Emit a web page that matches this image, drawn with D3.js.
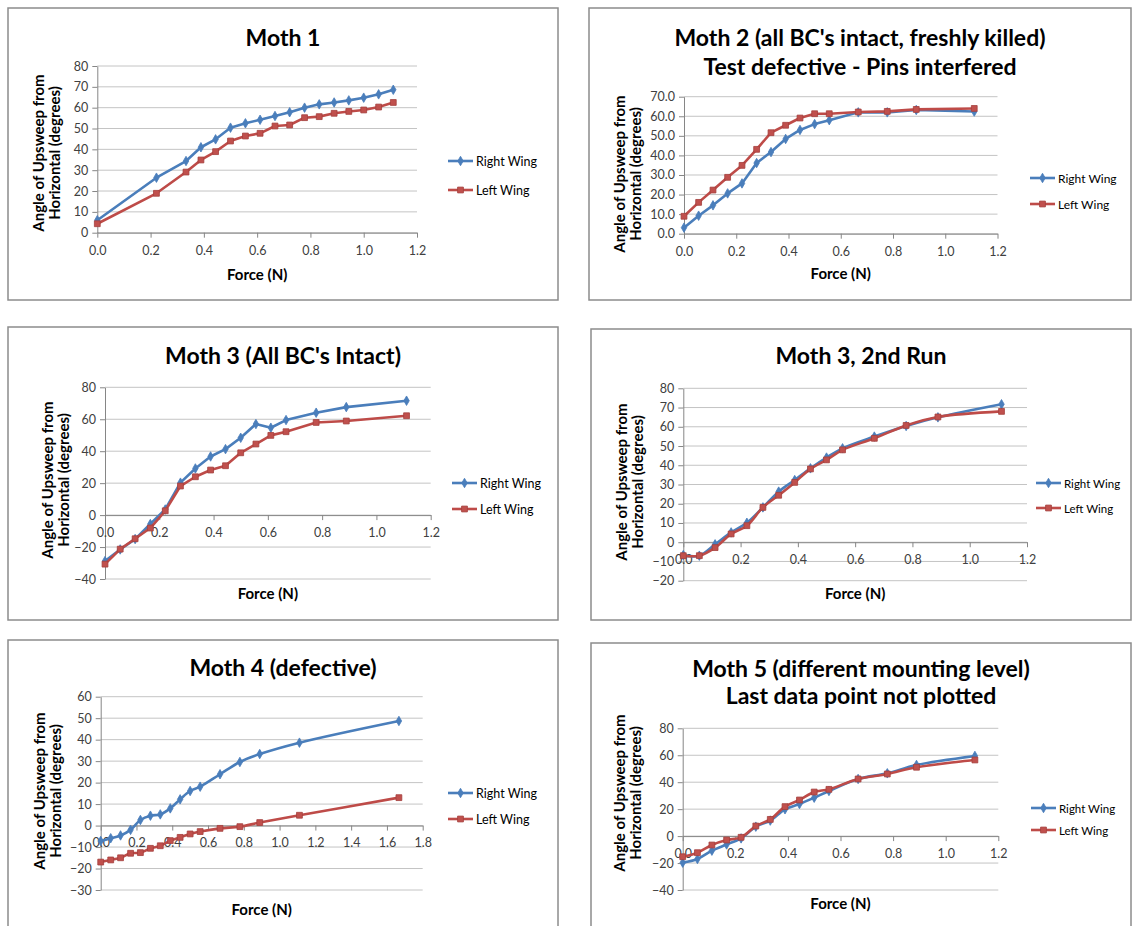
<!DOCTYPE html>
<html><head><meta charset="utf-8">
<script src="https://cdn.jsdelivr.net/npm/d3@7"></script>
<style>
body{margin:0;background:#fff;}
svg text{font-family:Lato,"Open Sans",sans-serif;}
</style>
</head><body>
<svg id="chart" width="1133" height="926"></svg>
<script>
// ---------------- DATA ----------------
const seriesNames = ["Right Wing", "Left Wing"];

const forceMoth1 = [0, 0.222, 0.333, 0.389, 0.444, 0.5, 0.556, 0.611, 0.667, 0.722, 0.778, 0.833, 0.889, 0.944, 1.0, 1.056, 1.111];
const moth1Right = [6, 26.4, 34.4, 41, 44.8, 50.4, 52.5, 54.2, 56, 57.8, 60, 61.6, 62.5, 63.5, 64.8, 66.4, 68.6];
const moth1Left  = [4.3, 18.9, 29.1, 34.9, 38.9, 44, 46.4, 47.7, 51.2, 51.7, 55.2, 55.7, 57.3, 58.2, 58.9, 60.3, 62.5];

const forceMoth2 = [0, 0.056, 0.111, 0.167, 0.222, 0.278, 0.333, 0.389, 0.444, 0.5, 0.556, 0.667, 0.778, 0.889, 1.111];
const moth2Right = [3.1, 9.2, 14.5, 20.6, 25.7, 36.1, 41.7, 48.4, 53, 56, 58, 62, 62, 63.2, 62.4];
const moth2Left  = [8.9, 16, 22.3, 28.8, 34.9, 43.1, 51.6, 55.4, 59.1, 61.3, 61.3, 62.2, 62.5, 63.5, 64];

const forceMoth3 = [0, 0.056, 0.111, 0.167, 0.222, 0.278, 0.333, 0.389, 0.444, 0.5, 0.556, 0.611, 0.667, 0.778, 0.889, 1.111];
const moth3Right = [-28.8, -21.5, -15, -5.6, 3.5, 20.3, 29.2, 36.7, 41.3, 48.4, 57, 54.7, 59.5, 64.1, 67.6, 71.6];
const moth3Left  = [-30.7, -21.3, -14.8, -8.1, 2.7, 18.2, 24, 28.2, 30.9, 39, 44.5, 49.9, 52.2, 58, 58.9, 62.2];

const forceMoth3Run2 = [0, 0.056, 0.111, 0.167, 0.222, 0.278, 0.333, 0.389, 0.444, 0.5, 0.556, 0.667, 0.778, 0.889, 1.111];
const moth3Run2Right = [-6.7, -7, -1.1, 5.1, 10.1, 18.1, 26.3, 32.3, 38.4, 44, 48.8, 54.9, 60.4, 64.9, 71.7];
const moth3Run2Left  = [-7, -7, -2.8, 4.3, 8.6, 18.1, 24.4, 31.1, 38.1, 42.8, 48, 54, 60.7, 65.1, 68];

const forceMoth4 = [0, 0.056, 0.111, 0.167, 0.222, 0.278, 0.333, 0.389, 0.444, 0.5, 0.556, 0.667, 0.778, 0.889, 1.111, 1.667];
const moth4Right = [-7.2, -5.9, -4.6, -2, 2.6, 4.6, 5.2, 8, 12.2, 16.1, 18.1, 23.9, 29.6, 33.3, 38.6, 48.7];
const moth4Left  = [-17, -16, -15, -12.9, -12.6, -10.6, -9.4, -7, -5.5, -3.9, -2.8, -1.3, -0.5, 1.4, 4.8, 13];

const forceMoth5 = [0, 0.056, 0.111, 0.167, 0.222, 0.278, 0.333, 0.389, 0.444, 0.5, 0.556, 0.667, 0.778, 0.889, 1.111];
const moth5Right = [-19.7, -17, -10.8, -6.2, -1.7, 7, 11.5, 19.9, 23.8, 28.5, 33.5, 42.4, 46.6, 52.8, 59.5];
const moth5Left  = [-15.3, -12.3, -6.6, -2.9, -0.9, 7.5, 12.4, 21.9, 26.8, 32.7, 34.7, 42.4, 46.1, 51.1, 56.5];

const xTicks12 = [0, 0.2, 0.4, 0.6, 0.8, 1.0, 1.2];
const xTicks18 = [0, 0.2, 0.4, 0.6, 0.8, 1.0, 1.2, 1.4, 1.6, 1.8];
const yTicksMoth1 = [0, 10, 20, 30, 40, 50, 60, 70, 80];
const yTicksMoth2 = [0, 10, 20, 30, 40, 50, 60, 70];
const yTicksMoth3 = [-40, -20, 0, 20, 40, 60, 80];
const yTicksMoth3Run2 = [-20, -10, 0, 10, 20, 30, 40, 50, 60, 70, 80];
const yTicksMoth4 = [-30, -20, -10, 0, 10, 20, 30, 40, 50, 60];
const yTicksMoth5 = [-40, -20, 0, 20, 40, 60, 80];

const titles = [
  ["Moth 1"],
  ["Moth 2 (all BC's intact, freshly killed)", "Test defective - Pins interfered"],
  ["Moth 3 (All BC's Intact)"],
  ["Moth 3, 2nd Run"],
  ["Moth 4 (defective)"],
  ["Moth 5 (different mounting level)", "Last data point not plotted"]
];
const xAxisTitle = "Force (N)";
const yAxisTitle = ["Angle of Upsweep from", "Horizontal (degrees)"];

// ---------------- LAYOUT / STYLE ----------------
const BLUE = "#4A7EBB", RED = "#BE4B48";
const panels = [
  {x: forceMoth1, r: moth1Right, l: moth1Left, xt: xTicks12, yt: yTicksMoth1, yfmt: d3.format("d"), smooth: false,
   box: [8, 8, 550, 292], titleY: [37], px: [97.3, 417], py: [66, 232.7],
   yTitleX: [38, 54], yTitleCY: 153, forceY: 274, leg: [448, 161, 190], legFs: 12.5},
  {x: forceMoth2, r: moth2Right, l: moth2Left, xt: xTicks12, yt: yTicksMoth2, yfmt: d3.format(".1f"), smooth: false,
   box: [589, 8, 542, 292], titleY: [37, 66], px: [684, 997.5], py: [96.7, 233.7],
   yTitleX: [618.5, 635], yTitleCY: 174, forceY: 273, leg: [1030, 178, 204], legFs: 12},
  {x: forceMoth3, r: moth3Right, l: moth3Left, xt: xTicks12, yt: yTicksMoth3, yfmt: d3.format("d"), smooth: false,
   box: [8, 327, 550, 293], titleY: [355], px: [105, 430.7], py: [387.3, 579],
   yTitleX: [47, 63], yTitleCY: 480, forceY: 593, leg: [452, 483, 509], legFs: 12.5},
  {x: forceMoth3Run2, r: moth3Run2Right, l: moth3Run2Left, xt: xTicks12, yt: yTicksMoth3Run2, yfmt: d3.format("d"), smooth: true,
   box: [591, 329, 540, 291], titleY: [355], px: [683.3, 1027], py: [388.3, 580.7],
   yTitleX: [620.5, 637], yTitleCY: 482, forceY: 593, leg: [1036, 483, 508], legFs: 11.5},
  {x: forceMoth4, r: moth4Right, l: moth4Left, xt: xTicks18, yt: yTicksMoth4, yfmt: d3.format("d"), smooth: true,
   box: [8, 640, 550, 300], titleY: [667], px: [100.7, 422.7], py: [696.7, 890],
   yTitleX: [39, 55], yTitleCY: 791, forceY: 909, leg: [448, 793, 819], legFs: 12.5},
  {x: forceMoth5, r: moth5Right, l: moth5Left, xt: xTicks12, yt: yTicksMoth5, yfmt: d3.format("d"), smooth: true,
   box: [591, 643, 540, 300], titleY: [668, 695], px: [682.7, 998.3], py: [728.3, 890],
   yTitleX: [619, 635], yTitleCY: 793, forceY: 903, leg: [1031, 808, 830], legFs: 11.5}
];

const svg = d3.select("#chart");

function marker(g, type, cx, cy) {
  if (type === 0) {
    g.append("path").attr("d", d3.symbol(d3.symbolDiamond, 26)())
      .attr("transform", `translate(${cx},${cy})`).attr("fill", BLUE).attr("stroke", BLUE).attr("stroke-width", 0.8);
  } else {
    g.append("path").attr("d", d3.symbol(d3.symbolSquare, 34)())
      .attr("transform", `translate(${cx},${cy})`).attr("fill", "#C0504D").attr("stroke", "#A33F3C").attr("stroke-width", 0.8);
  }
}

panels.forEach((p, i) => {
  const g = svg.append("g");
  // panel frame
  g.append("rect").attr("x", p.box[0]).attr("y", p.box[1]).attr("width", p.box[2]).attr("height", p.box[3])
    .attr("fill", "#fff").attr("stroke", "#8c8c8c").attr("stroke-width", 1.5);

  const xs = d3.scaleLinear().domain([p.xt[0], p.xt[p.xt.length - 1]]).range(p.px);
  const ys = d3.scaleLinear().domain([p.yt[0], p.yt[p.yt.length - 1]]).range([p.py[1], p.py[0]]);

  // gridlines
  g.append("g").selectAll("line").data(p.yt).join("line")
    .attr("x1", p.px[0]).attr("x2", p.px[1]).attr("y1", d => ys(d)).attr("y2", d => ys(d))
    .attr("stroke", "#c4c4c4").attr("stroke-width", 1);

  // y axis
  const ya = g.append("g").attr("transform", `translate(${p.px[0]},0)`)
    .call(d3.axisLeft(ys).tickValues(p.yt).tickFormat(p.yfmt).tickSize(5).tickSizeOuter(0).tickPadding(4));
  ya.select(".domain").attr("stroke", "#868686");
  ya.selectAll(".tick line").attr("stroke", "#868686");
  ya.selectAll(".tick text").attr("font-size", 12.5).attr("fill", "#404040").attr("font-family", "Lato");

  // x axis at y = 0
  const xa = g.append("g").attr("transform", `translate(0,${ys(0)})`)
    .call(d3.axisBottom(xs).tickValues(p.xt).tickFormat(d3.format(".1f")).tickSize(5).tickSizeOuter(0).tickPadding(8));
  xa.select(".domain").attr("stroke", "#868686");
  xa.selectAll(".tick line").attr("stroke", "#868686");
  xa.selectAll(".tick text").attr("font-size", 12.5).attr("fill", "#404040").attr("font-family", "Lato");

  // series
  const curve = p.smooth ? d3.curveCatmullRom.alpha(0.5) : d3.curveLinear;
  [p.r, p.l].forEach((vals, si) => {
    const pts = vals.map((v, k) => [p.x[k], v]);
    g.append("path").datum(pts)
      .attr("d", d3.line().x(d => xs(d[0])).y(d => ys(d[1])).curve(curve))
      .attr("fill", "none").attr("stroke", si === 0 ? BLUE : RED).attr("stroke-width", 2.6)
      .attr("stroke-linejoin", "round");
    const mg = g.append("g");
    pts.forEach(d => marker(mg, si, xs(d[0]), ys(d[1])));
  });

  // title
  const cx = p.box[0] + p.box[2] / 2;
  titles[i].forEach((t, k) => {
    g.append("text").attr("x", cx).attr("y", p.titleY[k]).attr("text-anchor", "middle")
      .attr("dominant-baseline", "central").attr("font-size", 23).attr("font-weight", "bold")
      .attr("fill", "#000").text(t);
  });

  // x axis title
  g.append("text").attr("x", (p.px[0] + p.px[1]) / 2).attr("y", p.forceY).attr("text-anchor", "middle")
    .attr("dominant-baseline", "central").attr("font-size", 15).attr("font-weight", "bold").text(xAxisTitle);

  // y axis title
  yAxisTitle.forEach((t, k) => {
    g.append("text").attr("transform", `translate(${p.yTitleX[k]},${p.yTitleCY}) rotate(-90)`)
      .attr("text-anchor", "middle").attr("dominant-baseline", "central")
      .attr("font-size", 15).attr("font-weight", "bold").text(t);
  });

  // legend
  seriesNames.forEach((name, si) => {
    const ly = p.leg[1 + si];
    const lx = p.leg[0];
    g.append("line").attr("x1", lx).attr("x2", lx + 25).attr("y1", ly).attr("y2", ly)
      .attr("stroke", si === 0 ? BLUE : RED).attr("stroke-width", 2.6);
    marker(g, si, lx + 12.5, ly);
    g.append("text").attr("x", lx + 28).attr("y", ly).attr("dominant-baseline", "central")
      .attr("font-size", p.legFs).attr("fill", "#000").text(name);
  });
});
</script>
</body></html>
